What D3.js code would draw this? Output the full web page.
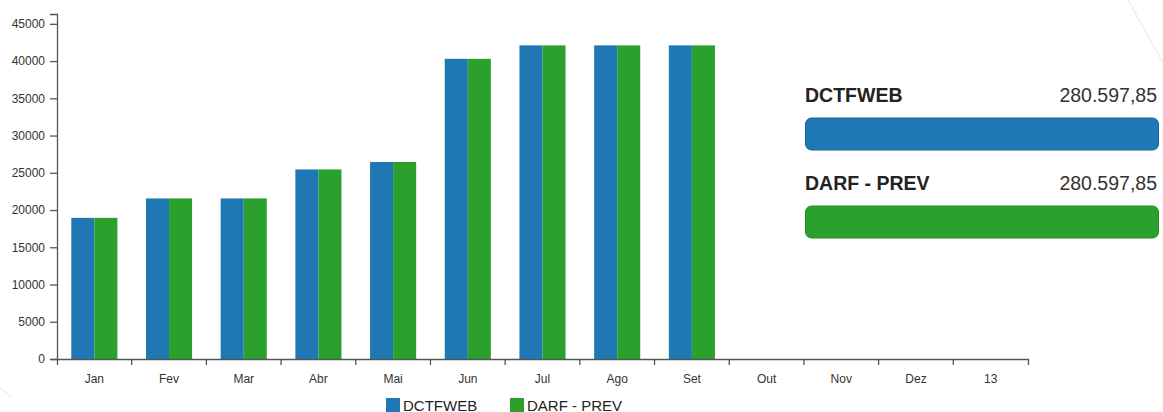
<!DOCTYPE html>
<html>
<head>
<meta charset="utf-8">
<script src="https://cdn.jsdelivr.net/npm/d3@7"></script>
<style>
  html, body { margin: 0; padding: 0; background: #fff; }
  svg { display: block; font-family: "Liberation Sans", Arial, Helvetica, sans-serif; }
</style>
</head>
<body>
<svg id="chart" width="1163" height="412"></svg>
<script>
// Monthly payments per guide type (R$)
const months = ["Jan", "Fev", "Mar", "Abr", "Mai", "Jun", "Jul", "Ago", "Set", "Out", "Nov", "Dez", "13"];
const seriesNames = ["DCTFWEB", "DARF - PREV"];
const dctfweb = [18950, 21560, 21560, 25450, 26450, 40300, 42109.28, 42109.28, 42109.29, null, null, null, null];
const darfPrev = [18950, 21560, 21560, 25450, 26450, 40300, 42109.28, 42109.28, 42109.29, null, null, null, null];
const yTicks = [0, 5000, 10000, 15000, 20000, 25000, 30000, 35000, 40000, 45000];
const colors = ["#1f77b4", "#2ca02c"];

const seriesValues = [dctfweb, darfPrev];
const svg = d3.select("#chart");

// faint background strokes
svg.append("line").attr("x1", 1128).attr("y1", 0).attr("x2", 1163).attr("y2", 63)
  .attr("stroke", "#ececec").attr("stroke-width", 1.2);
svg.append("line").attr("x1", 0).attr("y1", 388).attr("x2", 12).attr("y2", 397)
  .attr("stroke", "#ececec").attr("stroke-width", 1.2);

// ---- grouped bar chart ----
const plotLeft = 57, plotRight = 1028, plotTop = 14, plotBottom = 359;
const maxVal = d3.max(seriesValues.flat().filter(v => v != null));

const x = d3.scaleBand().domain(months).range([plotLeft, plotRight]).padding(0);
const x1 = d3.scaleBand().domain(seriesNames).range([0, x.bandwidth()])
  .paddingInner(0).paddingOuter(0.62);
const y = d3.scaleLinear().domain([0, maxVal * 1.1]).range([plotBottom, plotTop]);

const rows = months.map((m, i) => ({
  month: m,
  values: seriesNames.map((s, k) => ({ key: s, value: seriesValues[k][i], color: colors[k] }))
}));

const groups = svg.append("g").selectAll("g").data(rows).join("g")
  .attr("transform", d => `translate(${x(d.month)},0)`);
groups.selectAll("rect").data(d => d.values.filter(v => v.value != null)).join("rect")
  .attr("x", d => x1(d.key))
  .attr("width", x1.bandwidth())
  .attr("y", d => y(d.value))
  .attr("height", d => plotBottom - y(d.value))
  .attr("fill", d => d.color);

// y axis
const yAxis = svg.append("g").attr("transform", `translate(${plotLeft},0)`)
  .call(d3.axisLeft(y).tickValues(yTicks).tickFormat(d3.format("d")).tickSize(7).tickPadding(5));
yAxis.selectAll("text").attr("font-size", 12).attr("fill", "#333");
yAxis.attr("font-family", null);

// x axis: labels centred in bands, ticks on band edges
const xAxis = svg.append("g").attr("transform", `translate(0,${plotBottom})`)
  .call(d3.axisBottom(x).tickSizeInner(0).tickSizeOuter(6).tickPadding(15));
xAxis.selectAll("text").attr("font-size", 12).attr("fill", "#333");
xAxis.attr("font-family", null);
xAxis.selectAll(".edge").data(months.slice(1)).join("line")
  .attr("class", "edge")
  .attr("x1", d => x(d)).attr("x2", d => x(d))
  .attr("y1", 0).attr("y2", 6);

svg.selectAll(".domain, .tick line, .edge").attr("stroke", "#555").attr("stroke-width", 1.3);

// ---- totals panel ----
const brl = d3.formatLocale({ decimal: ",", thousands: ".", grouping: [3], currency: ["R$ ", ""] }).format(",.2f");
const totals = seriesValues.map(arr => d3.sum(arr.filter(v => v != null)));
const panelX = 805, panelW = 354;
const w = d3.scaleLinear().domain([0, d3.max(totals)]).range([0, panelW]);

const panel = svg.append("g").selectAll("g").data(seriesNames).join("g")
  .attr("transform", (d, i) => `translate(${panelX},${102 + i * 88})`);
panel.append("text")
  .attr("x", 0).attr("y", 0)
  .attr("font-size", 19.5).attr("font-weight", "bold").attr("fill", "#222")
  .text(d => d);
panel.append("text")
  .attr("x", panelW - 2).attr("y", 0).attr("text-anchor", "end")
  .attr("font-size", 19.5).attr("fill", "#333")
  .text((d, i) => brl(totals[i]));
panel.append("rect")
  .attr("x", 0.5).attr("y", 16)
  .attr("width", (d, i) => w(totals[i]) - 1).attr("height", 32)
  .attr("rx", 6).attr("ry", 6)
  .attr("fill", (d, i) => colors[i])
  .attr("stroke", (d, i) => d3.color(colors[i]).darker(0.4))
  .attr("stroke-width", 1);

// ---- legend ----
const legendX = [386, 510];
const legend = svg.append("g").selectAll("g").data(seriesNames).join("g")
  .attr("transform", (d, i) => `translate(${legendX[i]},398)`);
legend.append("rect").attr("width", 14).attr("height", 14).attr("fill", (d, i) => colors[i]);
legend.append("text").attr("x", 17).attr("y", 12.5)
  .attr("font-size", 15).attr("fill", "#222").text(d => d);
</script>
</body>
</html>
